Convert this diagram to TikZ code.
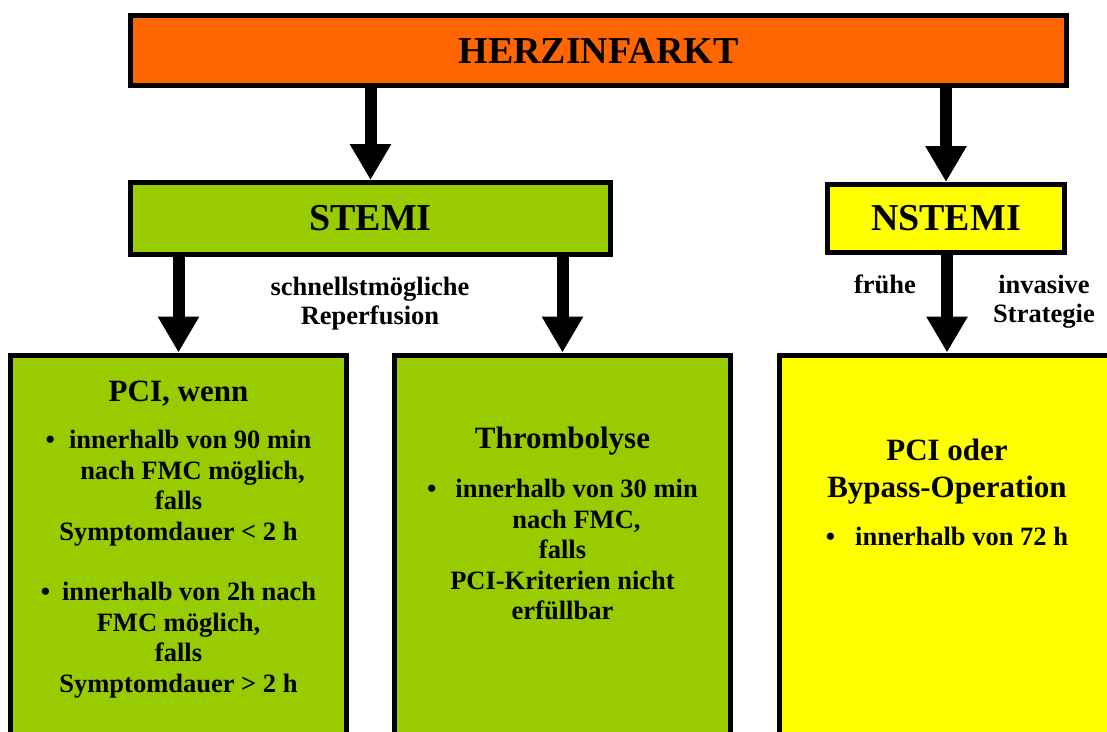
\documentclass[tikz,border=0pt]{standalone}
\usepackage{fontspec}
\setmainfont{Liberation Serif}
\usetikzlibrary{arrows.meta,positioning}
\definecolor{herzorange}{RGB}{255,102,0}
\definecolor{stemigreen}{RGB}{153,204,0}
\definecolor{nstemiyellow}{RGB}{255,255,0}
\tikzset{
  kasten/.style={draw=black, line width=5pt, inner sep=0pt},
  pfeil/.style={line width=12pt, -{Triangle[width=39pt,length=36pt]}},
  gross/.style={font=\bfseries\fontsize{38}{40}\selectfont},
  titel/.style={font=\bfseries\fontsize{31}{37}\selectfont, align=center, inner sep=0pt},
  punkt/.style={font=\bfseries\fontsize{26.5}{30.5}\selectfont, align=center, inner sep=0pt},
  beschriftung/.style={font=\bfseries\fontsize{26.5}{29}\selectfont, align=center, inner sep=0pt}
}
\begin{document}
\begin{tikzpicture}[x=1pt, y=-1pt]
  \useasboundingbox (0,0) rectangle (1107,731);
  \clip (0,0) rectangle (1107,731);

  % --- obere Kaesten ---
  \node[kasten, fill=herzorange, gross, minimum width=936pt, minimum height=70pt] (herz) at (598.5,50.5) {HERZINFARKT};
  \node[kasten, fill=stemigreen, gross, minimum width=480pt, minimum height=72pt] (stemi) at (370.5,218.5) {STEMI};
  \node[kasten, fill=nstemiyellow, gross, minimum width=237pt, minimum height=68pt] (nstemi) at (946,218.5) {NSTEMI};

  % --- untere Kaesten (laufen unten aus dem Bild) ---
  \node[kasten, fill=stemigreen, anchor=north, minimum width=336pt, minimum height=460pt] (pci) at (178.5,352.5) {};
  \node[kasten, fill=stemigreen, anchor=north, minimum width=336pt, minimum height=460pt] (lyse) at (562.5,352.5) {};
  \node[kasten, fill=nstemiyellow, anchor=north, minimum width=335pt, minimum height=460pt] (invasiv) at (947,352.5) {};

  % --- Pfeile ---
  \draw[pfeil] (herz.south -| stemi.north) -- (stemi.north);
  \draw[pfeil] (herz.south -| nstemi.north) -- (nstemi.north);
  \draw[pfeil] (stemi.south -| pci.north) -- (pci.north);
  \draw[pfeil] (stemi.south -| lyse.north) -- (lyse.north);
  \draw[pfeil] (nstemi.south -| invasiv.north) -- (invasiv.north);

  % --- Beschriftung der Pfeile ---
  \node[beschriftung, anchor=north] (reperfusion) at (370,277) {schnellstmögliche\\Reperfusion};
  \node[beschriftung, anchor=base] (fruehe) at (885,293) {frühe};
  \node[beschriftung, anchor=north] (strategie) at (1044,275) {invasive\\Strategie};

  % --- Texte in den Kaesten ---
  \node[titel, anchor=base] (pcikopf) at (178.5,401) {PCI, wenn};
  \node[punkt, anchor=north] (pcieins) at (178.5,430) {\textbullet\hspace{14pt}innerhalb von 90 min\\ \hspace*{28pt}nach FMC möglich,\\ falls\\ Symptomdauer < 2 h};
  \node[punkt, anchor=north] (pcizwei) at (178.5,582) {\textbullet\hspace{12pt}innerhalb von 2h nach\\ FMC möglich,\\ falls\\ Symptomdauer > 2 h};

  \node[titel, anchor=base] (lysekopf) at (562.5,448) {Thrombolyse};
  \node[punkt, anchor=north] (lysepunkt) at (562.5,479) {\textbullet\hspace{19pt}innerhalb von 30 min\\ \hspace*{28pt}nach FMC,\\ falls\\ PCI-Kriterien nicht\\ erfüllbar};

  \node[titel, anchor=north] (invasivkopf) at (947,439) {PCI oder\\Bypass-Operation};
  \node[punkt, anchor=base] (invasivpunkt) at (947,545) {\textbullet\hspace{20pt}innerhalb von 72 h};

\end{tikzpicture}
\end{document}
